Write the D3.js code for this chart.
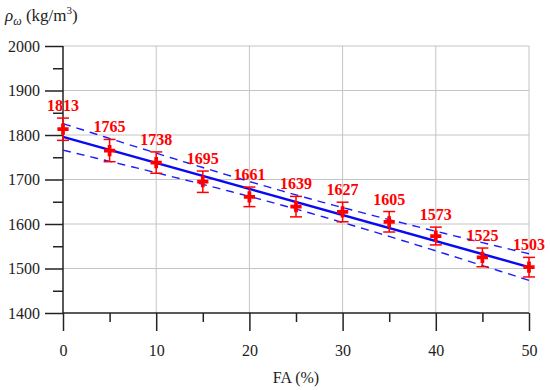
<!DOCTYPE html>
<html>
<head>
<meta charset="utf-8">
<script src="https://cdn.jsdelivr.net/npm/d3@7/dist/d3.min.js"></script>
<style>
  html, body { margin: 0; padding: 0; background: #fff; }
  svg { display: block; font-family: "Liberation Serif", "DejaVu Serif", serif; }
</style>
</head>
<body>
<svg id="chart" width="550" height="390"></svg>
<script>
const faLevels = [0, 5, 10, 15, 20, 25, 30, 35, 40, 45, 50];
const densities = [1813, 1765, 1738, 1695, 1661, 1639, 1627, 1605, 1573, 1525, 1503];
const errors = [25, 25, 24, 24, 22, 23, 22, 23, 20, 21, 22];
const xTicks = [0, 10, 20, 30, 40, 50];
const yTicks = [1400, 1500, 1600, 1700, 1800, 1900, 2000];
const BAND_SCALE = 53; // half-width factor of the dashed band

const width = 550, height = 390;
const margin = { left: 63, right: 21, top: 46, bottom: 77 };
const svg = d3.select("#chart");

const x = d3.scaleLinear().domain([0, 50]).range([margin.left, width - margin.right]);
const y = d3.scaleLinear().domain([1400, 2000]).range([height - margin.bottom, margin.top]);

// least squares fit
const n = faLevels.length;
const xMean = d3.mean(faLevels);
const yMean = d3.mean(densities);
const sxx = d3.sum(faLevels, (v) => (v - xMean) ** 2);
const sxy = d3.sum(faLevels, (v, i) => (v - xMean) * (densities[i] - yMean));
const slope = sxy / sxx;
const intercept = yMean - slope * xMean;
const fit = (v) => intercept + slope * v;
const halfBand = (v) => BAND_SCALE * Math.sqrt(1 / n + (v - xMean) ** 2 / sxx);

// grid
const grid = svg.append("g").attr("stroke", "#c4c4c4").attr("stroke-width", 1);
grid.selectAll(".gx").data(xTicks.filter((t) => t > 0)).join("line")
  .attr("x1", (d) => x(d)).attr("x2", (d) => x(d))
  .attr("y1", y(2000)).attr("y2", y(1400));
grid.selectAll(".gy").data(yTicks.filter((t) => t > 1400)).join("line")
  .attr("x1", x(0)).attr("x2", x(50))
  .attr("y1", (d) => y(d)).attr("y2", (d) => y(d));

// axes
const yAxis = svg.append("g").attr("transform", `translate(${x(0)},0)`)
  .call(d3.axisLeft(y).tickValues(yTicks).tickSize(18).tickPadding(5).tickFormat(d3.format("d")));
const yMinor = svg.append("g").attr("transform", `translate(${x(0)},0)`)
  .call(d3.axisLeft(y).tickValues(d3.range(1450, 2000, 100)).tickSize(10).tickFormat(""));
const xAxis = svg.append("g").attr("transform", `translate(0,${y(1400)})`)
  .call(d3.axisBottom(x).tickValues(xTicks).tickSize(18).tickPadding(14).tickFormat(d3.format("d")));
const xMinor = svg.append("g").attr("transform", `translate(0,${y(1400)})`)
  .call(d3.axisBottom(x).tickValues(d3.range(5, 50, 10)).tickSize(9).tickFormat(""));

for (const g of [yAxis, yMinor, xAxis, xMinor]) {
  g.select(".domain").attr("stroke", "#222").attr("stroke-width", 1.5);
  g.selectAll(".tick line").attr("stroke", "#222").attr("stroke-width", 1.5);
  g.selectAll("text").attr("font-family", "Liberation Serif").attr("font-size", 16).attr("fill", "#222");
}
yAxis.select(".domain").attr("d", `M0,${y(2000)}V${y(1400)}`);
xAxis.select(".domain").attr("d", `M${x(0)},0H${x(50)}`);
yMinor.select(".domain").remove();
xMinor.select(".domain").remove();

// fit and band
const xs = d3.range(0, 50.01, 0.5);
const line = d3.line().x((d) => x(d[0])).y((d) => y(d[1]));
svg.append("path")
  .attr("d", line(xs.map((v) => [v, fit(v) + halfBand(v)])))
  .attr("fill", "none").attr("stroke", "#1a1aff").attr("stroke-width", 1.4)
  .attr("stroke-dasharray", "8,6");
svg.append("path")
  .attr("d", line(xs.map((v) => [v, fit(v) - halfBand(v)])))
  .attr("fill", "none").attr("stroke", "#1a1aff").attr("stroke-width", 1.4)
  .attr("stroke-dasharray", "8,6");
svg.append("path")
  .attr("d", line([[0, fit(0)], [50, fit(50)]]))
  .attr("fill", "none").attr("stroke", "#0a0af0").attr("stroke-width", 2.5);

// error bars
const pts = faLevels.map((v, i) => ({ fa: v, rho: densities[i], err: errors[i] }));
const eb = svg.append("g").attr("stroke", "#ff0000").attr("stroke-width", 1.5);
eb.selectAll(".v").data(pts).join("line")
  .attr("x1", (d) => x(d.fa)).attr("x2", (d) => x(d.fa))
  .attr("y1", (d) => y(d.rho + d.err)).attr("y2", (d) => y(d.rho - d.err));
eb.selectAll(".t").data(pts).join("line")
  .attr("x1", (d) => x(d.fa) - 6).attr("x2", (d) => x(d.fa) + 6)
  .attr("y1", (d) => y(d.rho + d.err)).attr("y2", (d) => y(d.rho + d.err));
eb.selectAll(".b").data(pts).join("line")
  .attr("x1", (d) => x(d.fa) - 6).attr("x2", (d) => x(d.fa) + 6)
  .attr("y1", (d) => y(d.rho - d.err)).attr("y2", (d) => y(d.rho - d.err));

// markers
svg.append("g").selectAll("path").data(pts).join("path")
  .attr("transform", (d) => `translate(${x(d.fa)},${y(d.rho)})`)
  .attr("d", d3.symbol(d3.symbolCross, 70))
  .attr("fill", "#ff0000");

// value labels
svg.append("g").selectAll("text").data(pts).join("text")
  .attr("x", (d) => x(d.fa))
  .attr("y", (d) => y(d.rho + d.err) - 7)
  .attr("text-anchor", "middle")
  .attr("font-size", 16).attr("font-weight", "bold")
  .attr("fill", "#ff0000")
  .text((d) => d.rho);

// titles
const yt = svg.append("text").attr("x", 5).attr("y", 21)
  .attr("font-size", 17).attr("fill", "#222");
yt.append("tspan").attr("font-style", "italic").text("ρ");
yt.append("tspan").attr("font-style", "italic").attr("font-size", 12).attr("dy", 4).text("ω");
yt.append("tspan").attr("dy", -4).text(" (kg/m");
yt.append("tspan").attr("font-size", 11).attr("dy", -7).text("3");
yt.append("tspan").attr("dy", 7).text(")");

svg.append("text")
  .attr("x", (x(0) + x(50)) / 2).attr("y", 383)
  .attr("text-anchor", "middle").attr("font-size", 16).attr("fill", "#222")
  .text("FA (%)");
</script>
</body>
</html>
